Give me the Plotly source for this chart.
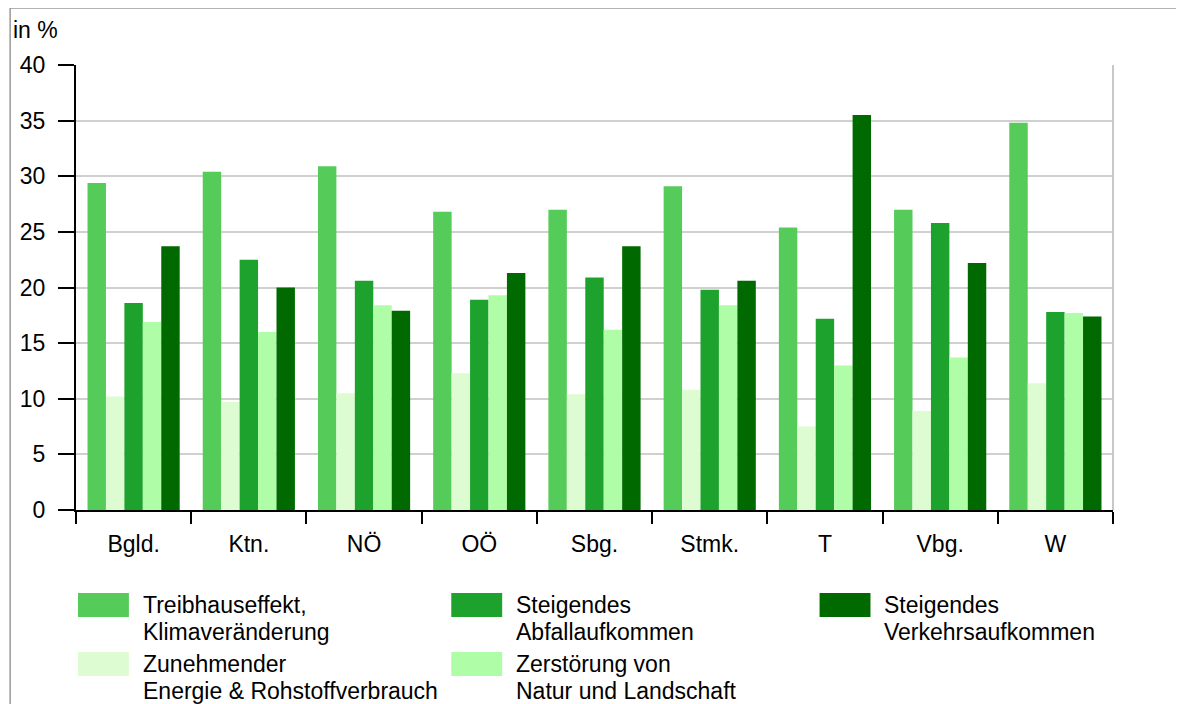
import plotly.graph_objects as go

# Bundesländer
regions = ["Bgld.", "Ktn.", "NÖ", "OÖ", "Sbg.", "Stmk.", "T", "Vbg.", "W"]

# Werte in %
treibhaus = [29.4, 30.4, 30.9, 26.8, 27.0, 29.1, 25.4, 27.0, 34.8]
energie = [10.2, 9.7, 10.5, 12.3, 10.4, 10.8, 7.5, 8.9, 11.4]
abfall = [18.6, 22.5, 20.6, 18.9, 20.9, 19.8, 17.2, 25.8, 17.8]
natur = [16.9, 16.0, 18.4, 19.3, 16.2, 18.4, 13.0, 13.7, 17.7]
verkehr = [23.7, 20.0, 17.9, 21.3, 23.7, 20.6, 35.5, 22.2, 17.4]

series = [
    (["Treibhauseffekt,", "Klimaveränderung"], treibhaus, "#55CB5A"),
    (["Zunehmender", "Energie & Rohstoffverbrauch"], energie, "#DEFCD2"),
    (["Steigendes", "Abfallaufkommen"], abfall, "#1DA32D"),
    (["Zerstörung von", "Natur und Landschaft"], natur, "#B0FDA8"),
    (["Steigendes", "Verkehrsaufkommen"], verkehr, "#006A00"),
]

# Legendenposition (Spalte, Zeile) je Reihe
legend_slots = [(0, 0), (0, 1), (1, 0), (1, 1), (2, 0)]

FONT = "Liberation Sans, Arial, sans-serif"

fig = go.Figure()
for lines, vals, color in series:
    fig.add_trace(go.Bar(x=regions, y=vals, name=" ".join(lines), marker_color=color,
                         marker_line_width=0, showlegend=False))

# Seiten-Pixel -> paper (Plotbereich 74..1113 x, 65..510 y; Seite hat 8px Rand)
def px(x):
    return (x - 74) / 1039

def py(y):
    return (510 - y) / 445

shapes = []
annotations = []
col_x = [76, 450, 819]
row_y = [593, 652]
for (lines, vals, color), (c, r) in zip(series, legend_slots):
    x0 = col_x[c]
    y0 = row_y[r]
    shapes.append(dict(type="rect", xref="paper", yref="paper",
                       x0=px(x0), x1=px(x0 + 51), y0=py(y0 + 24), y1=py(y0),
                       fillcolor=color, line=dict(width=0)))
    # eine Annotation je Zeile, damit der Zeilenabstand stimmt
    for i, line in enumerate(lines):
        annotations.append(dict(text=line, xref="paper", yref="paper",
                                x=px(x0 + 63), y=py(y0 - 3 + i * 26.5),
                                xanchor="left", yanchor="top",
                                showarrow=False,
                                font=dict(size=23, color="black", family=FONT)))

# Rahmen und rechte Begrenzung
shapes.append(dict(type="rect", xref="paper", yref="paper",
                   x0=px(8), x1=px(1210), y0=py(730), y1=py(8),
                   line=dict(color="#999999", width=1.5)))
shapes.append(dict(type="line", xref="paper", yref="paper",
                   x0=1, x1=1, y0=0, y1=1, line=dict(color="#c8c8c8", width=2)))

annotations.append(dict(text="in %", xref="paper", yref="paper",
                        x=px(9), y=py(30), xanchor="left", yanchor="middle",
                        showarrow=False, font=dict(size=23, color="black", family=FONT)))

fig.update_layout(
    width=1184, height=704,
    margin=dict(l=66, r=79, t=57, b=202),
    barmode="group", bargap=0.2, bargroupgap=0,
    plot_bgcolor="white", paper_bgcolor="white",
    font=dict(family=FONT, size=23, color="black"),
    shapes=shapes, annotations=annotations,
    showlegend=False,
)
fig.update_yaxes(range=[0, 40], dtick=5, showgrid=True, gridcolor="#d0d0d0", gridwidth=2,
                 showline=True, linecolor="black", linewidth=2,
                 ticks="outside", ticklen=16, tickwidth=2, tickcolor="black",
                 ticklabelstandoff=8, zeroline=False, fixedrange=True)
fig.update_xaxes(showline=True, linecolor="black", linewidth=2,
                 ticks="outside", tickson="boundaries", ticklen=12, tickwidth=2,
                 tickcolor="black", ticklabelstandoff=12, showgrid=False)

fig.write_html("out.html")
